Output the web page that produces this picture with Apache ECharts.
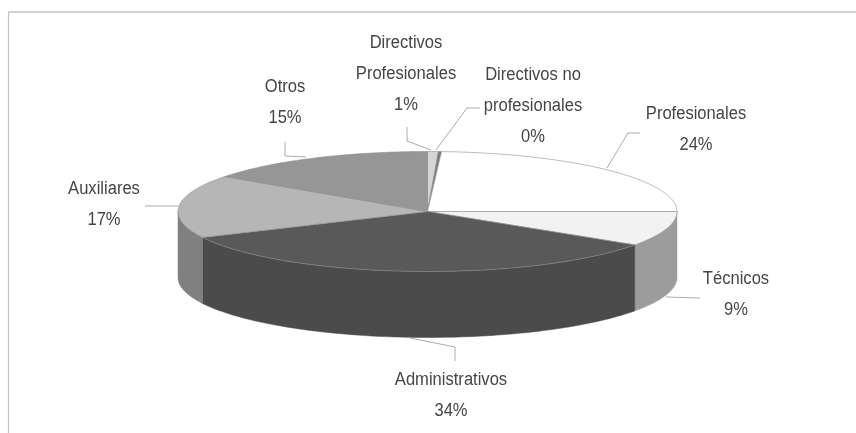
<!DOCTYPE html>
<html><head><meta charset="utf-8">
<style>html,body{margin:0;padding:0;background:#fff}#c{width:856px;height:433px}</style>
<script src="https://cdn.jsdelivr.net/npm/echarts@6/dist/echarts.min.js"></script>
</head><body><div id="c"></div>
<script>
// Data
const categories = ["Directivos Profesionales","Directivos no profesionales","Profesionales","Técnicos","Administrativos","Auxiliares","Otros"];
const labelLines = [["Directivos","Profesionales"],["Directivos no","profesionales"],["Profesionales"],["Técnicos"],["Administrativos"],["Auxiliares"],["Otros"]];
const values = [0.7,0.2,24.1,9.4,33.5,17,15.1];
// Styles
const topColors  = ["#d4d4d4","#7a7a7a","#ffffff","#f2f2f2","#595959","#b6b6b6","#969696"];
const wallColors = ["#a0a0a0","#5a5a5a","#bfbfbf","#9c9c9c","#4b4b4b","#808080","#707070"];
// Layout (pie geometry, label centres and leader lines)
const pie = {cx:427.5, cy:211.5, rx:249.5, ry:60, depth:66};
const labelPos = [[406,74],[533,106],[696,130],[736,295],[451,396],[104,205],[285,103]];
const leaders = [
  [[431,150],[407,141],[407,127]],
  [[436,150],[467,108],[480,108]],
  [[607,168],[628,133],[640,133]],
  [[666,297],[700,298]],
  [[410,338],[455,347],[455,361]],
  [[178,206],[145,206]],
  [[306,157],[285,156],[285,142]]
];
const total = values.reduce((a,b)=>a+b,0);
const ang = p => p/total*2*Math.PI;
function pt(th,dy){return [pie.cx+pie.rx*Math.sin(th), pie.cy-pie.ry*Math.cos(th)+(dy||0)];}
function arc(a,b,dy){const n=Math.max(2,Math.ceil((b-a)/0.02));const o=[];for(let i=0;i<=n;i++)o.push(pt(a+(b-a)*i/n,dy));return o;}

function renderItem(params, api){
  const i = params.dataIndex;
  const v = api.value(0);
  let before = 0; for(let k=0;k<i;k++) before += values[k];
  const a = ang(before), b = ang(before+v);
  const children = [];
  const wa = Math.max(a,Math.PI/2), wb = Math.min(b,3*Math.PI/2);
  if(wb>wa){
    children.push({type:'polygon',shape:{points:arc(wa,wb,0).concat(arc(wa,wb,pie.depth).reverse())},
      style:{fill:wallColors[i],stroke:wallColors[i],lineWidth:0.5}});
  }
  children.push({type:'polygon',shape:{points:[[pie.cx,pie.cy]].concat(arc(a,b,0))},
    style:{fill:topColors[i],stroke:'#8f8f8f',lineWidth:0.6}});
  children.push({type:'polyline',shape:{points:leaders[i]},style:{fill:'none',stroke:'#969696',lineWidth:0.8}});
  const txt = labelLines[i].concat([Math.round(v/total*100)+'%']).join('\n');
  children.push({type:'text',x:labelPos[i][0],y:labelPos[i][1],scaleX:0.92,
    style:{text:txt,textAlign:'center',textVerticalAlign:'middle',fill:'#454545',
      font:'18px "Liberation Sans", Arial, sans-serif',lineHeight:31}});
  return {type:'group',children};
}

const chart = echarts.init(document.getElementById('c'),null,{renderer:'canvas'});
chart.setOption({
  animation:false,
  backgroundColor:'#fff',
  graphic:[
    {type:'line',shape:{x1:8.5,y1:12,x2:856,y2:12},style:{stroke:'#a6a6a6',lineWidth:1.2}},
    {type:'line',shape:{x1:8.5,y1:12,x2:8.5,y2:433},style:{stroke:'#c4c4c4',lineWidth:1.2}}
  ],
  series:[{type:'custom',coordinateSystem:'none',renderItem,
    data:values.map((v,i)=>({name:categories[i],value:[v]})),silent:true}]
});
</script></body></html>
